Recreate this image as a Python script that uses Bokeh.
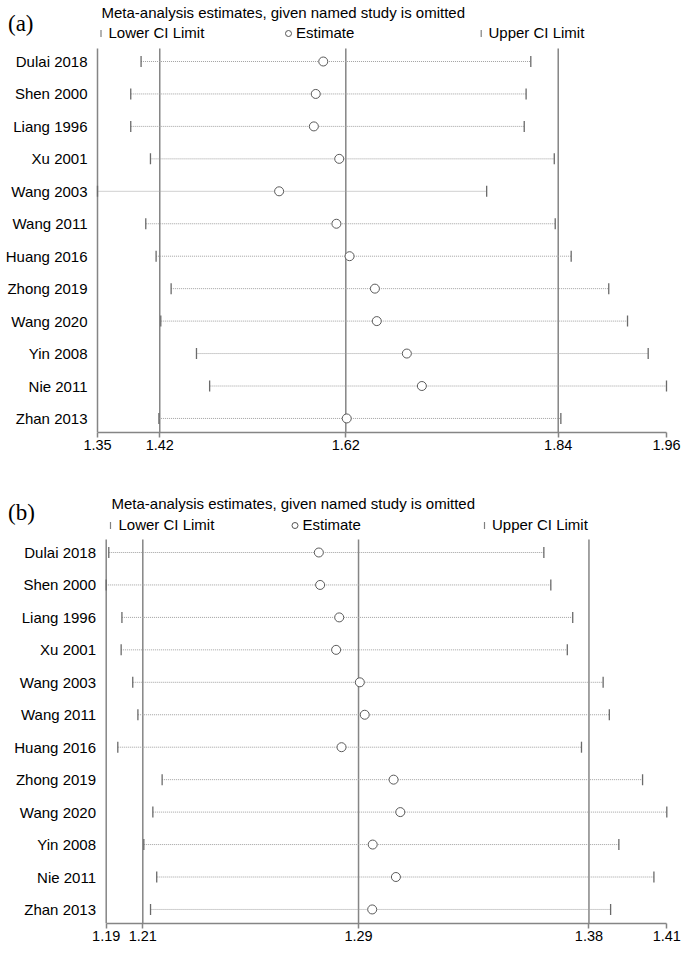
import math
from bokeh.plotting import figure
from bokeh.models import FixedTicker, Range1d, ColumnDataSource
from bokeh.layouts import column
from bokeh.embed import file_html
from bokeh.resources import INLINE
from bokeh.core.properties import value

# ---------------- data ----------------
studies = ["Dulai 2018", "Shen 2000", "Liang 1996", "Xu 2001", "Wang 2003", "Wang 2011",
           "Huang 2016", "Zhong 2019", "Wang 2020", "Yin 2008", "Nie 2011", "Zhan 2013"]

# panel (a)
a_lower = [1.399, 1.388, 1.388, 1.409, 1.3526, 1.404, 1.415, 1.431, 1.420, 1.458, 1.472, 1.418]
a_est = [1.593, 1.585, 1.583, 1.610, 1.546, 1.607, 1.621, 1.648, 1.650, 1.682, 1.698, 1.618]
a_upper = [1.814, 1.809, 1.807, 1.839, 1.767, 1.840, 1.857, 1.897, 1.917, 1.939, 1.9585, 1.846]
a_ticks = [1.3526, 1.4189, 1.617, 1.8432, 1.9585]
a_tick_labels = ["1.35", "1.42", "1.62", "1.84", "1.96"]

# panel (b)
b_lower = [1.1936, 1.1926, 1.1987, 1.1984, 1.2029, 1.2049, 1.1971, 1.2143, 1.2107, 1.2072, 1.2122, 1.2098]
b_est = [1.2751, 1.2756, 1.2830, 1.2818, 1.2910, 1.2929, 1.2839, 1.3041, 1.3067, 1.2960, 1.3050, 1.2958]
b_upper = [1.3624, 1.3651, 1.3736, 1.3715, 1.3854, 1.3878, 1.3770, 1.4007, 1.4101, 1.3915, 1.4051, 1.3883]
b_ticks = [1.1926, 1.2068, 1.2905, 1.3799, 1.4101]
b_tick_labels = ["1.19", "1.21", "1.29", "1.38", "1.41"]

title_text = "Meta-analysis estimates, given named study is omitted"
legend_texts = ["Lower CI Limit", "Estimate", "Upper CI Limit"]

# ---------------- styling / layout ----------------
FIG_W = 693
ROW_PX = 32.45
GRAY = "#858585"
FONT = "Liberation Sans"


def panel(tag, lower, est, upper, ticks, tick_labels, fig_h, page_top, frame_bottom_page,
          frame_left_page, frame_right_page, row1_page, label_right, hd):
    n = len(studies)
    ypos = [n - i for i in range(n)]
    x0, x1 = ticks[0], ticks[-1]
    u = (x1 - x0) / (frame_right_page - frame_left_page)

    def X(px):
        return x0 + (px - frame_left_page) * u

    def Y(py):
        return n - (py - row1_page) / ROW_PX

    bottom = fig_h - (frame_bottom_page - page_top)
    p = figure(width=FIG_W, height=fig_h, output_backend="svg", toolbar_location=None,
               title=None, x_range=Range1d(X(0), X(FIG_W)),
               y_range=Range1d(Y(frame_bottom_page), Y(page_top)),
               y_axis_location=None, x_axis_location="below",
               min_border=0, min_border_bottom=bottom)
    p.outline_line_color = None
    p.xgrid.visible = False
    p.ygrid.visible = False
    p.background_fill_color = "white"
    p.border_fill_color = "white"

    y_line_top = Y(row1_page - 13)
    y_line_bot = Y(frame_bottom_page)

    # left axis line + overall-estimate lines
    p.segment(x0=[x0], y0=[y_line_bot], x1=[x0], y1=[y_line_top], line_color=GRAY, line_width=1.5)
    p.segment(x0=ticks[1:4], y0=[y_line_bot] * 3, x1=ticks[1:4], y1=[y_line_top] * 3,
              line_color=GRAY, line_width=1.5)

    src = ColumnDataSource(dict(y=ypos, lo=lower, est=est, hi=upper))
    p.segment(x0="lo", y0="y", x1="hi", y1="y", source=src, line_color="#a0a0a0",
              line_width=1, line_dash="1 1")
    p.scatter(x="lo", y="y", source=src, marker="dash", angle=math.pi / 2, size=11,
              line_color="#6a6a6a", line_width=1.3)
    p.scatter(x="hi", y="y", source=src, marker="dash", angle=math.pi / 2, size=11,
              line_color="#6a6a6a", line_width=1.3)
    p.scatter(x="est", y="y", source=src, marker="circle", size=9, fill_color="white",
              line_color="#5a5a5a", line_width=1)

    # study labels
    p.text(x=[X(label_right)] * n, y=ypos, text=studies, text_font=value(FONT),
           text_font_size=value("15px"), text_color="black", text_align="right",
           text_baseline="middle")

    # x axis
    xa = p.xaxis[0]
    xa.bounds = (x0, x1)
    xa.ticker = FixedTicker(ticks=ticks)
    xa.major_label_overrides = {t: l for t, l in zip(ticks, tick_labels)}
    xa.axis_line_color = GRAY
    xa.axis_line_width = 1.5
    xa.major_tick_line_color = GRAY
    xa.major_tick_line_width = 1.5
    xa.major_tick_out = 5
    xa.major_tick_in = 0
    xa.minor_tick_line_color = None
    xa.major_label_standoff = 2
    xa.major_label_text_font = FONT
    xa.major_label_text_font_size = "14.5px"
    xa.major_label_text_color = "black"

    def txt(s, px, py, size, font=FONT, color="black"):
        p.text(x=[X(px)], y=[Y(py)], text=[s], text_font=value(font),
               text_font_size=value(size), text_color=color, text_align="left",
               text_baseline="middle")

    txt(tag, 7.5, hd["tag"], "23px", font="Liberation Serif")
    txt(title_text, hd["title_x"], hd["title_y"], "15px")
    txt(legend_texts[0], hd["l1"], hd["leg_y"], "15px")
    txt(legend_texts[1], hd["l2"], hd["leg_y"], "15px")
    txt(legend_texts[2], hd["l3"], hd["leg_y"], "15px")

    # legend keys
    my = Y(hd["mark_y"])
    p.scatter(x=[X(hd["m1"]), X(hd["m3"])], y=[my, my], marker="dash", angle=math.pi / 2,
              size=7, line_color="#808080", line_width=1.2)
    p.scatter(x=[X(hd["m2"])], y=[my], marker="circle", size=6, fill_color="white",
              line_color="#555555", line_width=1)
    return p


pa = panel("(a)", a_lower, a_est, a_upper, a_ticks, a_tick_labels,
           fig_h=458, page_top=0, frame_bottom_page=432, frame_left_page=97,
           frame_right_page=666, row1_page=61, label_right=87,
           hd=dict(tag=23, title_x=101, title_y=12, leg_y=31.5, mark_y=33,
                   m1=100.5, l1=108, m2=288, l2=295.5, m3=480.7, l3=488))
pb = panel("(b)", b_lower, b_est, b_upper, b_ticks, b_tick_labels,
           fig_h=498, page_top=458, frame_bottom_page=923, frame_left_page=105.7,
           frame_right_page=666.3, row1_page=552, label_right=95.5,
           hd=dict(tag=511.5, title_x=111, title_y=503, leg_y=523.5, mark_y=525,
                   m1=110, l1=118, m2=294.5, l2=302, m3=484, l3=491.5))

layout = column(pa, pb, spacing=0)
open("out.html", "w").write(file_html(layout, INLINE))
